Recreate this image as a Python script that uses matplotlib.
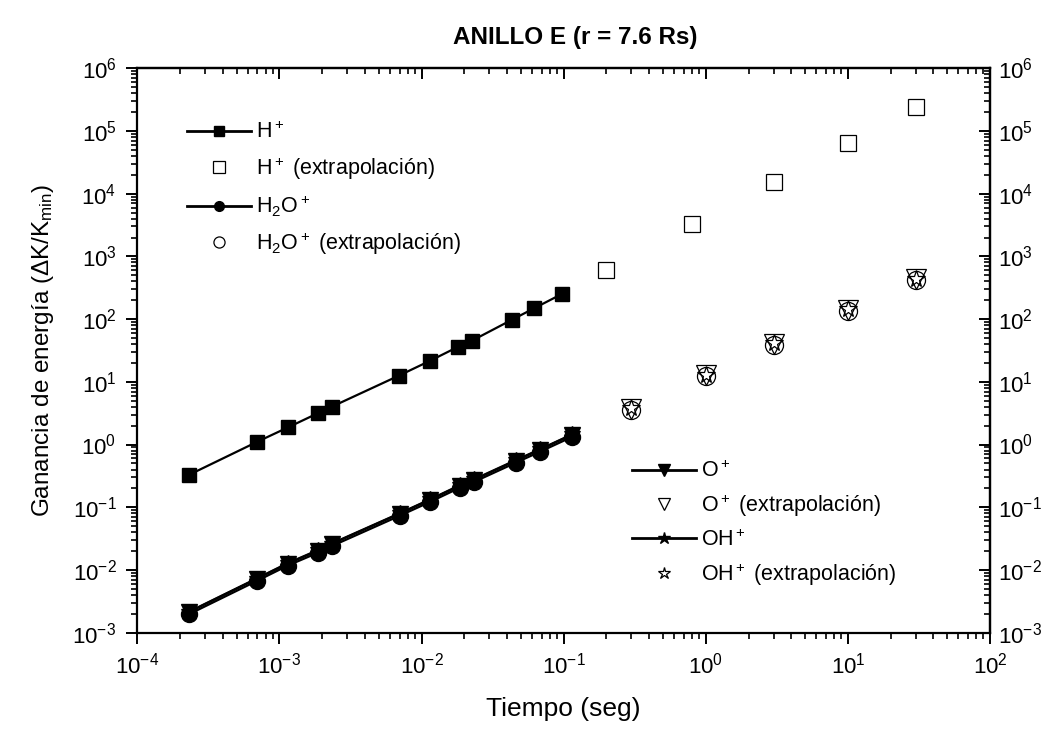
import matplotlib
matplotlib.use("Agg")
import matplotlib.pyplot as plt
from matplotlib.lines import Line2D
from matplotlib.ticker import LogLocator, NullFormatter
import numpy as np

plt.rcParams['font.family'] = ['Liberation Sans', 'DejaVu Sans']
plt.rcParams['mathtext.fontset'] = 'custom'
plt.rcParams['mathtext.rm'] = 'Liberation Sans'
plt.rcParams['mathtext.it'] = 'Liberation Sans:italic'
plt.rcParams['mathtext.bf'] = 'Liberation Sans:bold'
plt.rcParams['mathtext.default'] = 'regular'

# simulated ions (time in s, energy gain dK/Kmin)
t_h = [2.3e-4, 7.0e-4, 1.15e-3, 1.86e-3, 2.33e-3, 6.9e-3, 1.14e-2, 1.8e-2, 2.25e-2, 4.3e-2, 6.2e-2, 9.7e-2]
k_h = [0.327, 1.11, 1.88, 3.15, 4.0, 12.5, 21.5, 36, 45, 97, 149, 251]

t_heavy = [2.3e-4, 6.9e-4, 1.14e-3, 1.86e-3, 2.33e-3, 7.0e-3, 1.15e-2, 1.86e-2, 2.35e-2, 4.6e-2, 6.8e-2, 0.115]
k_h2o = [1.96e-3, 6.65e-3, 1.17e-2, 1.88e-2, 2.4e-2, 7.3e-2, 0.122, 0.205, 0.255, 0.513, 0.767, 1.33]
k_o = [2.12e-3, 7.2e-3, 1.26e-2, 2.03e-2, 2.6e-2, 7.9e-2, 0.132, 0.221, 0.275, 0.554, 0.83, 1.44]
k_oh = [2.15e-3, 7.3e-3, 1.28e-2, 2.07e-2, 2.64e-2, 8.0e-2, 0.134, 0.225, 0.28, 0.564, 0.84, 1.46]

# extrapolations
t_ext_h = [0.2, 0.8, 3, 10, 30]
k_ext_h = [607, 3250, 15500, 65000, 244000]
t_ext = [0.3, 1, 3, 10, 30]
k_ext_h2o = [3.6, 12.2, 39, 136, 415]
k_ext_o = [3.75, 12.7, 40.5, 141, 432]
k_ext_oh = [3.8, 12.9, 41, 143, 438]

fig = plt.figure(figsize=(10.62, 7.31), dpi=100)
ax = fig.add_axes([0.1293, 0.1345, 0.8029, 0.7721])

lw = 1.6
ax.plot(t_h, k_h, color='black', lw=lw, marker='s', ms=10.5, zorder=5)
ax.plot(t_heavy, k_o, color='black', lw=lw, marker='v', ms=12, zorder=4)
ax.plot(t_heavy, k_oh, color='black', lw=lw, marker='*', ms=12, zorder=4)
ax.plot(t_heavy, k_h2o, color='black', lw=lw, marker='o', ms=11.5, zorder=6)

ext_kw = dict(ls='none', color='black', mfc='none', mew=0.9, zorder=5)
ax.plot(t_ext_h, k_ext_h, marker='s', ms=11.5, **ext_kw)
ax.plot(t_ext, k_ext_h2o, marker='o', ms=13, **ext_kw)
ax.plot(t_ext, k_ext_o, marker='v', ms=14, **ext_kw)
ax.plot(t_ext, k_ext_oh, marker='*', ms=13, **ext_kw)

ax.set_xscale('log')
ax.set_yscale('log')
ax.set_xlim(1e-4, 1e2)
ax.set_ylim(1e-3, 1e6)

for axis in (ax.xaxis, ax.yaxis):
    axis.set_major_locator(LogLocator(base=10, numticks=20))
    axis.set_minor_locator(LogLocator(base=10, subs=np.arange(2, 10), numticks=200))
    axis.set_minor_formatter(NullFormatter())

ax.tick_params(which='major', direction='out', length=8, width=1.4, labelsize=16, pad=6)
ax.tick_params(which='minor', direction='out', length=4.5, width=1.2)
ax.tick_params(axis='y', which='major', pad=7)
for s in ax.spines.values():
    s.set_linewidth(1.6)

# mirrored axes: ticks point into the plot
top = ax.secondary_xaxis('top')
top.tick_params(which='major', direction='in', length=8, width=1.4, labeltop=False)
top.tick_params(which='minor', direction='in', length=4.5, width=1.2)
top.xaxis.set_major_locator(LogLocator(base=10, numticks=20))
top.xaxis.set_minor_locator(LogLocator(base=10, subs=np.arange(2, 10), numticks=200))
top.xaxis.set_minor_formatter(NullFormatter())
top.spines['top'].set_linewidth(1.6)

right = ax.secondary_yaxis('right')
right.tick_params(which='major', direction='in', length=8, width=1.4, labelsize=16, pad=6)
right.tick_params(which='minor', direction='in', length=4.5, width=1.2)
right.yaxis.set_major_locator(LogLocator(base=10, numticks=20))
right.yaxis.set_minor_locator(LogLocator(base=10, subs=np.arange(2, 10), numticks=200))
right.yaxis.set_minor_formatter(NullFormatter())
right.spines['right'].set_linewidth(1.6)

ax.set_xlabel('Tiempo (seg)', fontsize=19, labelpad=14)
ax.set_ylabel(r'Ganancia de energía ($\Delta$K/K$_{min}$)', fontsize=17.5, labelpad=12)
fig.text(0.542, 0.949, 'ANILLO E (r = 7.6 Rs)', ha='center', va='center',
         fontsize=17.5, fontweight='bold')

hkw = dict(color='black', lw=2)
hs1 = [Line2D([], [], marker='s', ms=7, **hkw),
       Line2D([], [], marker='s', ms=8, ls='none', color='black', mfc='none', mew=0.9),
       Line2D([], [], marker='o', ms=7, **hkw),
       Line2D([], [], marker='o', ms=8, ls='none', color='black', mfc='none', mew=0.9)]
lb1 = [r'H$^+$', r'H$^+$ (extrapolación)', r'H$_2$O$^+$', r'H$_2$O$^+$ (extrapolación)']
hs2 = [Line2D([], [], marker='v', ms=8, **hkw),
       Line2D([], [], marker='v', ms=8, ls='none', color='black', mfc='none', mew=0.9),
       Line2D([], [], marker='*', ms=9, **hkw),
       Line2D([], [], marker='*', ms=9, ls='none', color='black', mfc='none', mew=0.9)]
lb2 = [r'O$^+$', r'O$^+$ (extrapolación)', r'OH$^+$', r'OH$^+$ (extrapolación)']

leg_kw = dict(loc='upper left', frameon=False, fontsize=15.5, handlelength=3.0,
              handletextpad=0.2, borderpad=0, borderaxespad=0, numpoints=1)
leg1 = ax.legend(hs1, lb1, bbox_to_anchor=(0.058, 0.905), labelspacing=0.55, **leg_kw)
ax.add_artist(leg1)
ax.legend(hs2, lb2, bbox_to_anchor=(0.58, 0.305), labelspacing=0.48, **leg_kw)

fig.savefig('out.png', dpi=100)
